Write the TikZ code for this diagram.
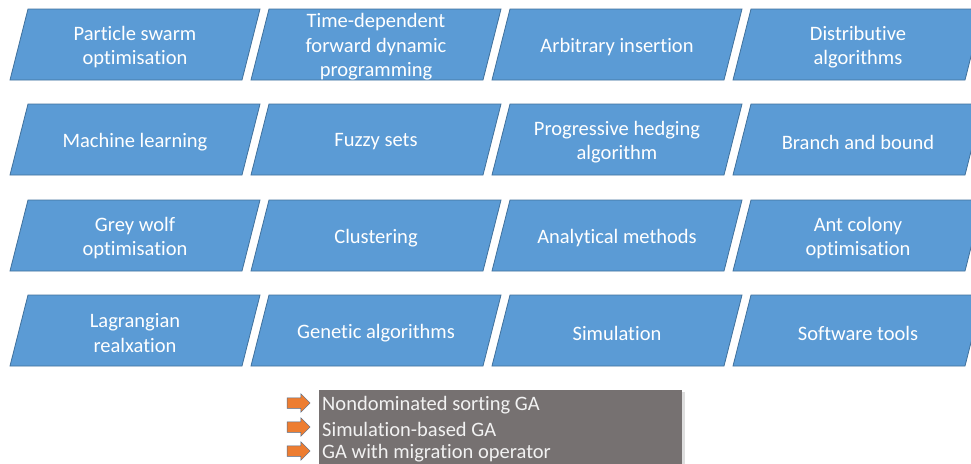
\documentclass[tikz,border=0pt]{standalone}
\usepackage{fontspec}
\setmainfont[Ligatures=NoCommon]{Carlito}
\usetikzlibrary{shapes.arrows}
\definecolor{boxblue}{HTML}{5B9BD5}
\definecolor{boxedge}{HTML}{41719C}
\definecolor{greybox}{HTML}{767171}
\definecolor{arroworange}{HTML}{ED7D31}
\definecolor{arrowedge}{HTML}{4F6D8F}
\tikzset{
  parabox/.style={fill=boxblue,draw=boxedge,line width=0.8pt},
  paratext/.style={text=white,font=\fontsize{20.5}{24.5}\selectfont,align=center,inner sep=0pt,yshift=-2.5pt},
  listtext/.style={text=white!95!black,font=\fontsize{20.5}{24}\selectfont,anchor=west,inner sep=0pt,yshift=-2pt},
  orangearrow/.style={single arrow,fill=arroworange,draw=arrowedge,line width=0.5pt,
    minimum height=23pt,inner xsep=0pt,inner ysep=5pt,single arrow head extend=4pt,
    single arrow head indent=0pt}
}
\newcommand\paranode[4]{%
  \draw[parabox] (#2-125,#3+35.5) -- (#2-107,#3-35.5) -- (#2+125,#3-35.5) -- (#2+107,#3+35.5) -- cycle;
  \node[paratext] (#1) at (#2,#3) {#4};
}
\begin{document}
\begin{tikzpicture}[x=1pt,y=-1pt]
\useasboundingbox (0,0) rectangle (971,463);
\clip (0,0) rectangle (971,463);
\fill[white] (0,0) rectangle (971,463);
% row 1
\paranode{pso}{135}{44.5}{Particle swarm\\optimisation}
\paranode{tdfdp}{376}{44.5}{Time-dependent\\forward dynamic\\programming}
\paranode{ai}{617}{44.5}{Arbitrary insertion}
\paranode{da}{858}{44.5}{Distributive\\algorithms}
% row 2
\paranode{ml}{135}{139.5}{Machine learning}
\paranode{fs}{376}{139.5}{Fuzzy sets}
\paranode{pha}{617}{139.5}{Progressive hedging\\algorithm}
\paranode{bb}{858}{139.5}{Branch and bound}
% row 3
\paranode{gwo}{135}{235.5}{Grey wolf\\optimisation}
\paranode{cl}{376}{235.5}{Clustering}
\paranode{am}{617}{235.5}{Analytical methods}
\paranode{aco}{858}{235.5}{Ant colony\\optimisation}
% row 4
\paranode{lr}{135}{330.5}{Lagrangian\\realxation}
\paranode{ga}{376}{330.5}{Genetic algorithms}
\paranode{sim}{617}{330.5}{Simulation}
\paranode{st}{858}{330.5}{Software tools}
% grey list box
\fill[black!25,opacity=0.5] (321,392) rectangle (685,470);
\fill[greybox] (319,390) rectangle (682,470);
\node[listtext] (l1) at (322,403) {Nondominated sorting GA};
\node[listtext] (l2) at (322,427) {Simulation-based GA};
\node[listtext] (l3) at (322,451) {GA with migration operator};
\node[orangearrow] (a1) at (296,403) {};
\node[orangearrow] (a2) at (296,427) {};
\node[orangearrow] (a3) at (296,451) {};
\end{tikzpicture}
\end{document}
